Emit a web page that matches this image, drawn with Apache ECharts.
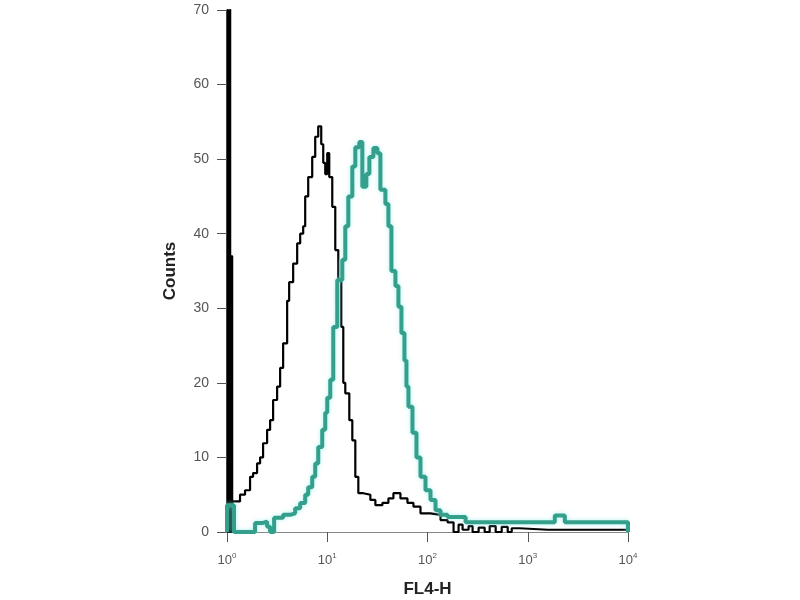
<!DOCTYPE html>
<html>
<head>
<meta charset="utf-8">
<script src="https://cdn.jsdelivr.net/npm/echarts@6/dist/echarts.min.js"></script>
<style>
  html, body { margin: 0; padding: 0; background: #fff; }
  #chart { width: 800px; height: 600px; }
</style>
</head>
<body>
<div id="chart"></div>
<script>
// FL4-H positions are in decades (log10 of the channel value)
const yTicks = [0, 10, 20, 30, 40, 50, 60, 70]
const xDecades = [0, 1, 2, 3, 4]

// off-scale first channels of the control (filled)
const spikePos = [0, 0.035, 0.055]
const spikeCount = [75, 37, 0]

// control histogram (black)
const blackPos = [0, 0.05, 0.13, 0.18, 0.23, 0.26, 0.30, 0.33, 0.36, 0.40, 0.43, 0.46, 0.50,
  0.53, 0.56, 0.60, 0.62, 0.66, 0.70, 0.73, 0.76, 0.78, 0.81, 0.85, 0.88, 0.91, 0.94, 0.96,
  0.98, 1.00, 1.02, 1.05, 1.08, 1.11, 1.14, 1.16, 1.18, 1.22, 1.25, 1.28, 1.31, 1.36, 1.43,
  1.48, 1.55, 1.61, 1.66, 1.73, 1.80, 1.86, 1.93, 2.03, 2.13, 2.20, 2.26, 2.31, 2.35, 2.41,
  2.45, 2.51, 2.57, 2.62, 2.68, 2.74, 2.80, 2.84, 2.92, 3.20, 3.50, 4.00]
const blackCount = [0, 4.1, 5, 5.6, 7.4, 7.9, 9.2, 10, 11.9, 13.7, 15, 17.7, 19.5,
  22, 25.3, 31, 33.5, 36, 38.7, 40, 41, 45, 47.6, 50.3, 53, 54.4, 52, 49.5,
  48, 50.8, 47.6, 43.6, 37.8, 33.8, 27.5, 20, 18.6, 15, 12.3, 7.4, 5.2, 5, 4.3,
  3.6, 3.9, 4.5, 5.2, 4.5, 3.9, 3.4, 2.5, 2.3, 1.6, 1.3, 0, 1, 0.3, 0.8,
  0, 0.6, 0, 0.8, 0, 0.7, 0, 0.5, 0.3, 0.3, 0.3, 0]

// stained sample (teal)
const tealPos = [0, 0, 0.07, 0.28, 0.35, 0.40, 0.43, 0.47, 0.56, 0.63, 0.68, 0.73, 0.78,
  0.81, 0.85, 0.88, 0.91, 0.95, 0.98, 1.00, 1.03, 1.06, 1.10, 1.15, 1.18, 1.21, 1.25, 1.28,
  1.32, 1.35, 1.39, 1.42, 1.46, 1.50, 1.53, 1.58, 1.61, 1.64, 1.68, 1.71, 1.74, 1.77, 1.79,
  1.81, 1.85, 1.89, 1.93, 1.98, 2.03, 2.08, 2.13, 2.20, 2.38, 3.27, 3.37, 4.00]
const tealCount = [0, 3.6, 0, 1.2, 1.4, 0.7, 0, 1.9, 2.3, 2.5, 3.2, 3.9, 5,
  6, 7.4, 9.2, 11.4, 13.7, 16, 18, 20.4, 27.5, 33.8, 36.5, 41, 45, 49, 51.6,
  52.3, 46.3, 48, 50.3, 51.5, 50.8, 45.9, 44, 41, 35, 33, 30.2, 26.7, 23, 19.5,
  16.8, 13.3, 10, 7.4, 5.6, 4.3, 2.9, 2.3, 2, 1.3, 2.2, 1.3, 0]

const zip = (xs, ys) => xs.map((x, i) => [x, ys[i]])

const chart = echarts.init(document.getElementById('chart'))
chart.setOption({
  animation: false,
  grid: { left: 227, right: 172, top: 10, bottom: 68, containLabel: false, outerBoundsMode: 'none' },
  xAxis: {
    type: 'value',
    min: 0,
    max: 4,
    interval: 1,
    name: 'FL4-H',
    nameLocation: 'middle',
    nameGap: 49,
    nameTextStyle: { fontFamily: 'Liberation Sans', fontWeight: 'bold', fontSize: 17, color: '#222' },
    axisLine: { lineStyle: { color: '#888', width: 1 } },
    axisTick: { show: true, length: 10, lineStyle: { color: '#555' } },
    splitLine: { show: false },
    axisLabel: {
      margin: 20,
      formatter: v => '{b|10}{s|' + v + '}',
      rich: {
        b: { fontFamily: 'Liberation Sans', fontSize: 13, color: '#555', lineHeight: 16 },
        s: { fontFamily: 'Liberation Sans', fontSize: 8, color: '#555', lineHeight: 16, verticalAlign: 'top', padding: [0, 0, 6, 0] }
      }
    }
  },
  yAxis: {
    type: 'value',
    min: 0,
    max: 70,
    interval: 10,
    name: 'Counts',
    nameLocation: 'middle',
    nameGap: 48,
    nameRotate: 90,
    nameTextStyle: { fontFamily: 'Liberation Sans', fontWeight: 'bold', fontSize: 17, color: '#222' },
    axisLine: { show: true, lineStyle: { color: '#000', width: 1.5 } },
    axisTick: { show: true, length: 10, lineStyle: { color: '#555' } },
    splitLine: { show: false },
    axisLabel: {
      margin: 18,
      fontFamily: 'Liberation Sans',
      fontSize: 14,
      color: '#555'
    }
  },
  series: [
    {
      name: 'spike',
      type: 'line',
      step: 'end',
      symbol: 'none',
      data: zip(spikePos, spikeCount),
      lineStyle: { color: '#000', width: 1.5 },
      areaStyle: { color: '#000', opacity: 1 },
      z: 4
    },
    {
      name: 'control',
      type: 'line',
      step: 'end',
      symbol: 'none',
      data: zip(blackPos, blackCount),
      lineStyle: { color: '#000', width: 2.2 },
      z: 3
    },
    {
      name: 'sample',
      type: 'line',
      step: 'end',
      symbol: 'none',
      data: zip(tealPos, tealCount),
      lineStyle: { color: '#34a08c', width: 4, shadowColor: 'rgba(140,235,235,0.7)', shadowBlur: 4 },
      z: 5
    }
  ]
})
</script>
</body>
</html>
